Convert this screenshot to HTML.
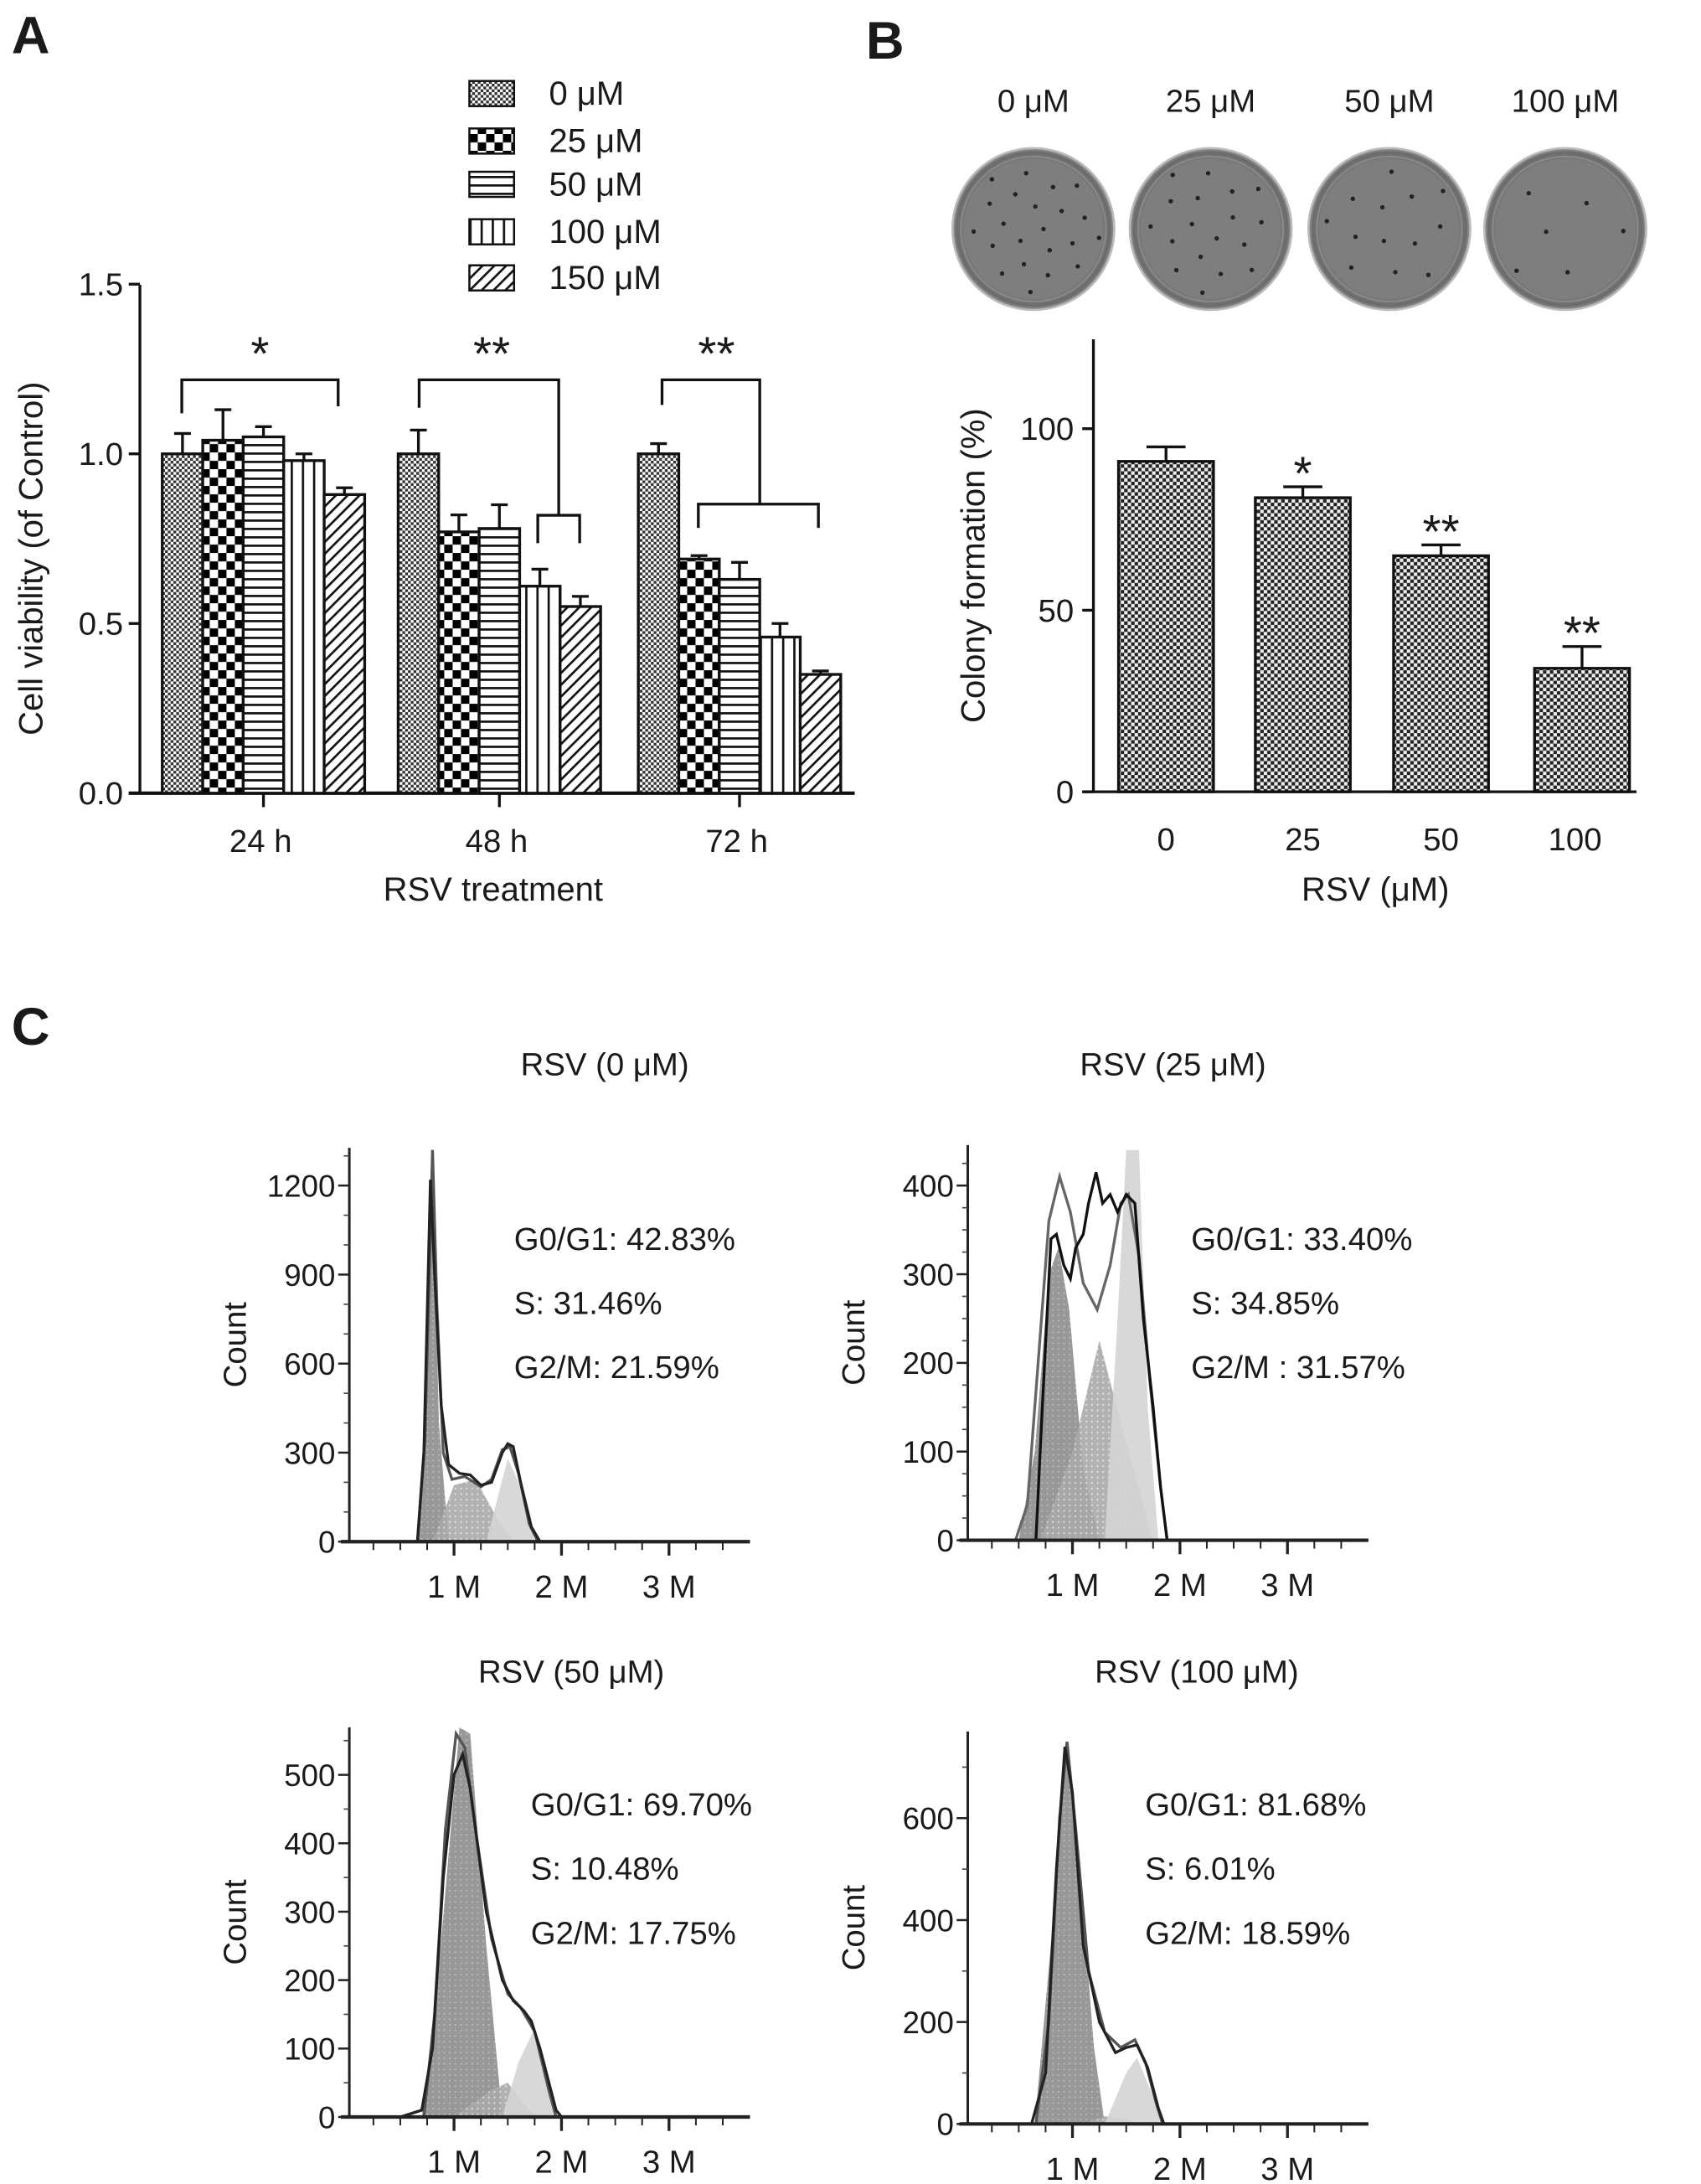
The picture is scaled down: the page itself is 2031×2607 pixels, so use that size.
<!DOCTYPE html>
<html><head><meta charset="utf-8">
<style>
html,body{margin:0;padding:0;background:#fff;}
svg{display:block;font-family:"Liberation Sans",Arial,sans-serif;}
text{fill:#1a1a1a;}
</style></head>
<body>
<svg id="fig" width="2031" height="2607" viewBox="0 0 1218 1564" xmlns="http://www.w3.org/2000/svg">
<defs>
<pattern id="p0" width="4" height="4" patternUnits="userSpaceOnUse"><rect width="4" height="4" fill="#fff"/><rect width="2" height="2" fill="#333"/><rect x="2" y="2" width="2" height="2" fill="#333"/></pattern>
<pattern id="p1" width="12" height="12" patternUnits="userSpaceOnUse"><rect width="12" height="12" fill="#fff"/><rect width="6" height="6" fill="#000"/><rect x="6" y="6" width="6" height="6" fill="#000"/></pattern>
<pattern id="p2" width="6" height="6" patternUnits="userSpaceOnUse"><rect width="6" height="6" fill="#fff"/><rect y="0" width="6" height="1.6" fill="#111"/></pattern>
<pattern id="p3" width="8" height="8" patternUnits="userSpaceOnUse"><rect width="8" height="8" fill="#fff"/><rect x="0" width="1.6" height="8" fill="#111"/></pattern>
<pattern id="p4" width="6" height="6" patternUnits="userSpaceOnUse" patternTransform="rotate(45)"><rect width="6" height="6" fill="#fff"/><rect width="1.6" height="6" fill="#111"/></pattern>
<pattern id="pB" width="5" height="5" patternUnits="userSpaceOnUse"><rect width="5" height="5" fill="#eee"/><rect width="2.5" height="2.5" fill="#222"/><rect x="2.5" y="2.5" width="2.5" height="2.5" fill="#222"/></pattern>
<pattern id="dotD" width="4" height="4" patternUnits="userSpaceOnUse"><rect width="4" height="4" fill="#8c8c8c"/><circle cx="2" cy="2" r="0.6" fill="#bbb"/></pattern>
<pattern id="dotS" width="4" height="4" patternUnits="userSpaceOnUse"><rect width="4" height="4" fill="#a9a9a9"/><circle cx="2" cy="2" r="0.7" fill="#ddd"/></pattern>
<radialGradient id="dishG" cx="0.5" cy="0.5" r="0.5"><stop offset="0.85" stop-color="#7e7e7e"/><stop offset="0.95" stop-color="#6a6a6a"/><stop offset="1" stop-color="#a0a0a0"/></radialGradient>
</defs>
<g id="root"></g>
</svg>
<script>
// ---------- Panel A data ----------
const aGroups = ["24 h","48 h","72 h"];
const aSeries = ["0 μM","25 μM","50 μM","100 μM","150 μM"];
const aVal24 = [1.00,1.04,1.05,0.98,0.88];
const aVal48 = [1.00,0.77,0.78,0.61,0.55];
const aVal72 = [1.00,0.69,0.63,0.46,0.35];
const aErr24 = [0.06,0.09,0.03,0.02,0.02];
const aErr48 = [0.07,0.05,0.07,0.05,0.03];
const aErr72 = [0.03,0.01,0.05,0.04,0.01];
const aTicks = ["0.0","0.5","1.0","1.5"];
const aTickVals = [0,0.5,1.0,1.5];
// ---------- Panel B data ----------
const bCats = ["0","25","50","100"];
const bVals = [91,81,65,34];
const bErrs = [4,3,3,6];
const bSig = ["","*","**","**"];
const bTicks = [0,50,100];
const bDots = [22,18,13,6];
// ---------- Panel C data ----------
const cTitles = ["RSV (0 μM)","RSV (25 μM)","RSV (50 μM)","RSV (100 μM)"];
const cG1 = ["42.83%","33.40%","69.70%","81.68%"];
const cS = ["31.46%","34.85%","10.48%","6.01%"];
const cG2 = ["21.59%","31.57%","17.75%","18.59%"];
const cTicks0 = [0,300,600,900,1200];
const cTicks1 = [0,100,200,300,400];
const cTicks2 = [0,100,200,300,400,500];
const cTicks3 = [0,200,400,600];
const c0Out = [[0.5,0],[0.66,0],[0.72,300],[0.78,1220],[0.82,900],[0.88,460],[0.95,260],[1.05,230],[1.15,225],[1.25,190],[1.35,200],[1.45,300],[1.5,330],[1.55,320],[1.62,200],[1.72,50],[1.8,0],[3.7,0]];
const c0Out2 = [[0.66,0],[0.73,350],[0.8,1320],[0.84,800],[0.9,300],[0.98,210],[1.1,220],[1.25,185],[1.35,210],[1.45,310],[1.52,320],[1.6,230],[1.7,60],[1.78,0]];
const c0G1 = [[0.66,0],[0.74,400],[0.8,1300],[0.86,400],[0.95,0]];
const c0S = [[0.8,0],[1.0,190],[1.2,210],[1.4,80],[1.55,0]];
const c0G2 = [[1.3,0],[1.5,280],[1.6,200],[1.75,0]];
const c1Out = [[0.5,0],[0.66,0],[0.72,150],[0.8,340],[0.85,345],[0.92,310],[0.98,295],[1.03,330],[1.1,345],[1.15,380],[1.22,415],[1.28,380],[1.35,390],[1.42,370],[1.5,390],[1.58,380],[1.66,250],[1.75,150],[1.82,60],[1.88,0],[3.7,0]];
const c1Out2 = [[0.47,0],[0.58,40],[0.68,200],[0.78,360],[0.88,410],[0.98,370],[1.1,290],[1.23,260],[1.35,310],[1.45,380],[1.52,390],[1.62,320],[1.72,180],[1.82,60],[1.88,0]];
const c1G1 = [[0.5,0],[0.65,100],[0.78,300],[0.87,330],[0.97,260],[1.1,80],[1.25,0]];
const c1S = [[0.7,0],[1.0,100],[1.25,225],[1.5,110],[1.75,0]];
const c1G2 = [[1.3,0],[1.42,250],[1.5,440],[1.62,440],[1.7,150],[1.8,0]];
const c2Out = [[0.5,0],[0.7,10],[0.8,100],[0.9,350],[1.0,500],[1.08,530],[1.15,480],[1.3,300],[1.45,200],[1.55,170],[1.65,155],[1.72,140],[1.8,100],[1.95,10],[2.0,0],[3.7,0]];
const c2Out2 = [[0.72,0],[0.82,150],[0.92,420],[1.02,560],[1.1,540],[1.2,420],[1.35,260],[1.5,180],[1.62,160],[1.75,125],[1.88,40],[1.95,0]];
const c2G1 = [[0.7,0],[0.85,200],[1.05,580],[1.15,560],[1.3,250],[1.45,0]];
const c2S = [[1.0,0],[1.35,40],[1.5,50],[1.7,10],[1.8,0]];
const c2G2 = [[1.45,0],[1.6,80],[1.75,130],[1.85,80],[1.95,0]];
const c3Out = [[0.5,0],[0.62,0],[0.75,100],[0.85,500],[0.93,740],[1.0,650],[1.1,350],[1.25,200],[1.4,140],[1.5,150],[1.6,155],[1.7,110],[1.8,30],[1.85,0],[3.7,0]];
const c3Out2 = [[0.66,0],[0.78,200],[0.88,600],[0.95,750],[1.03,580],[1.15,300],[1.3,180],[1.45,150],[1.58,165],[1.68,120],[1.78,40],[1.84,0]];
const c3G1 = [[0.65,0],[0.82,400],[0.93,740],[1.05,550],[1.2,150],[1.3,0]];
const c3S = [[1.1,0],[1.3,15],[1.5,10],[1.6,0]];
const c3G2 = [[1.3,0],[1.5,100],[1.6,130],[1.7,80],[1.85,0]];

const NS="http://www.w3.org/2000/svg";
const root=document.getElementById('root');
function mk(tag,attrs,parent){const e=document.createElementNS(NS,tag);for(const k in attrs)e.setAttribute(k,attrs[k]);(parent||root).appendChild(e);return e;}
function txt(x,y,s,size,anchor,parent,weight){const t=mk('text',{x:x,y:y,'font-size':size,'text-anchor':anchor||'middle','font-weight':weight||'normal'},parent);t.textContent=s;return t;}

let L=txt(8,38,"A",38,'start',null,'bold');


L=txt(620,42,"B",38,'start',null,'bold');


L=txt(8,748,"C",38,'start',null,'bold');



// ---------- Panel A ----------
const gA=mk('g',{});


const aX0=100,aY0=568,aPx=243;
const ay=v=>aY0-v*aPx;
const aGroupStart=[116,285,457], aBW=29;
const aVals=[aVal24,aVal48,aVal72], aErrs=[aErr24,aErr48,aErr72];
const pats=['p0','p1','p2','p3','p4'];
mk('line',{x1:aX0,y1:204,x2:aX0,y2:aY0,stroke:'#111','stroke-width':2},gA);
mk('line',{x1:aX0-8,y1:aY0,x2:612,y2:aY0,stroke:'#111','stroke-width':2.5},gA);
aTickVals.forEach((v,i)=>{mk('line',{x1:aX0-8,y1:ay(v),x2:aX0,y2:ay(v),stroke:'#111','stroke-width':2},gA);
 const t=txt(aX0-12,ay(v)+8,aTicks[i],23,'end',gA);
 
 });
aGroups.forEach((g,gi)=>{
 const cx=aGroupStart[gi]+aBW*2.5;
 mk('line',{x1:cx,y1:aY0,x2:cx,y2:aY0+10,stroke:'#111','stroke-width':2},gA);
 const t=txt(cx-2,610,g,23,'middle',gA);
 
 
 aVals[gi].forEach((v,si)=>{
  const x=aGroupStart[gi]+si*aBW;
  const r=mk('rect',{x:x,y:ay(v),width:aBW,height:aY0-ay(v),fill:'url(#'+pats[si]+')',stroke:'#111','stroke-width':2},gA);
  
  
  const e=aErrs[gi][si], mx=x+aBW/2;
  mk('path',{d:`M${mx},${ay(v)} V${ay(v+e)} M${mx-6},${ay(v+e)} H${mx+6}`,stroke:'#111','stroke-width':2,fill:'none'},gA);
 });
});
let t=txt(22,400,"Cell viability (of Control)",24,'middle',gA);
t.setAttribute('transform','rotate(-90 22 400)');
t.setAttribute('y',408);


t=txt(353,645,"RSV treatment",24,'middle',gA);


mk('path',{d:'M130,296 V272 H242 V291',stroke:'#111','stroke-width':2,fill:'none'},gA);
mk('path',{d:'M300,292 V272 H400 V369 M385,389 V369 H415 V389',stroke:'#111','stroke-width':2,fill:'none'},gA);
mk('path',{d:'M474,290 V272 H544 V361 M500,378 V361 H586 V378',stroke:'#111','stroke-width':2,fill:'none'},gA);
txt(186,265,"*",34,'middle',gA);txt(352,265,"**",34,'middle',gA);txt(513,265,"**",34,'middle',gA);
const legY=[67,101,132,166,199];
aSeries.forEach((s,i)=>{
 const r=mk('rect',{x:336,y:legY[i]-9,width:32,height:18,fill:'url(#'+pats[i]+')',stroke:'#111','stroke-width':1.5},gA);
 
 
 const l=txt(393,legY[i]+8,s,24,'start',gA);
 
 
});

// ---------- Panel B ----------
const gB=mk('g',{});


const dishCx=[740,867,995,1121];
bCats.forEach((c,i)=>{
 const l=txt(dishCx[i],80,c+" μM",23,'middle',gB);
 
 
 const d=mk('circle',{cx:dishCx[i],cy:164,r:58,fill:'url(#dishG)',stroke:'#bbb','stroke-width':1.5},gB);
 
 
 mk('circle',{cx:dishCx[i],cy:164,r:52,fill:'none',stroke:'#8c8c8c','stroke-width':1},gB);
 for(let k=0;k<bDots[i];k++){
  const a=k*2.39996+i, rr=48*Math.sqrt((k+0.5)/bDots[i]);
  mk('circle',{cx:dishCx[i]+rr*Math.cos(a),cy:164+rr*Math.sin(a),r:1.6,fill:'#222'},gB);
 }
});
const bX0=783,bY0=567,bPx=2.6;
const by=v=>bY0-v*bPx;
const bCx=[835,933,1032,1133], bW=68;
mk('line',{x1:bX0,y1:243,x2:bX0,y2:bY0,stroke:'#111','stroke-width':2},gB);
mk('line',{x1:bX0-8,y1:bY0,x2:1172,y2:bY0,stroke:'#111','stroke-width':2},gB);
bTicks.forEach(v=>{mk('line',{x1:bX0-8,y1:by(v),x2:bX0,y2:by(v),stroke:'#111','stroke-width':2},gB);
 const l=txt(bX0-14,by(v)+8,String(v),23,'end',gB);
 
 });
bCats.forEach((c,i)=>{
 const r=mk('rect',{x:bCx[i]-bW/2,y:by(bVals[i]),width:bW,height:bY0-by(bVals[i]),fill:'url(#pB)',stroke:'#111','stroke-width':2},gB);
 
 
 const e=bErrs[i];
 mk('path',{d:`M${bCx[i]},${by(bVals[i])} V${by(bVals[i]+e)} M${bCx[i]-14},${by(bVals[i]+e)} H${bCx[i]+14}`,stroke:'#111','stroke-width':2,fill:'none'},gB);
 const l=txt(bCx[i]-(i==3?5:0),609,c,23,'middle',gB);
 
 
 if(bSig[i]){const s=txt(bCx[i],by(bVals[i]+e)+2,bSig[i],34,'middle',gB);
  
  }
});
t=txt(705,405,"Colony formation (%)",24,'middle',gB);
t.setAttribute('transform','rotate(-90 705 405)');


t=txt(985,645,"RSV (μM)",24,'middle',gB);



// ---------- Panel C ----------
const hists=[
 {ax:250,y0:1104,top:822,px:255/1200,ticks:cTicks0,out:c0Out,out2:c0Out2,g1:c0G1,s:c0S,g2:c0G2,title:[433,770],txtX:368,txtY:895,minor:100,c1:'#222',c2:'#555'},
 {ax:693,y0:1103,top:820,px:254/400,ticks:cTicks1,out:c1Out,out2:c1Out2,g1:c1G1,s:c1S,g2:c1G2,title:[840,770],txtX:853,txtY:895,minor:25,c1:'#111',c2:'#666'},
 {ax:250,y0:1516,top:1237,px:245/500,ticks:cTicks2,out:c2Out,out2:c2Out2,g1:c2G1,s:c2S,g2:c2G2,title:[409,1205],txtX:380,txtY:1300,minor:50,c1:'#222',c2:'#555'},
 {ax:693,y0:1521,top:1240,px:219/600,ticks:cTicks3,out:c3Out,out2:c3Out2,g1:c3G1,s:c3S,g2:c3G2,title:[857,1205],txtX:820,txtY:1300,minor:100,c1:'#222',c2:'#555'}
];
hists.forEach((h,hi)=>{
 const g=mk('g',{});
 
 
 const mPx=77, x0=h.ax-2;
 const X=m=>x0+m*mPx, Y=c=>Math.max(h.top,h.y0-c*h.px);
 const poly=(pts)=>pts.map((p,i)=>(i?'L':'M')+X(p[0]).toFixed(1)+','+Y(p[1]).toFixed(1)).join(' ');
 const tt=txt(h.title[0],h.title[1],cTitles[hi],23,'middle',g);
 
 
 const fills=[[h.g1,'url(#dotD)'],[h.s,'url(#dotS)'],[h.g2,'#d4d4d4']];
 fills.forEach(f=>{const p=mk('path',{d:poly(f[0])+' Z',fill:f[1],stroke:'none',opacity:0.9},g);
  
  });
 const o2=mk('path',{d:poly(h.out2),fill:'none',stroke:h.c2,'stroke-width':2},g);
 
 
 const o=mk('path',{d:poly(h.out),fill:'none',stroke:h.c1,'stroke-width':2},g);
 
 
 mk('line',{x1:h.ax,y1:h.top,x2:h.ax,y2:h.y0,stroke:'#222','stroke-width':1.8},g);
 mk('line',{x1:h.ax-6,y1:h.y0,x2:h.ax+287,y2:h.y0,stroke:'#222','stroke-width':2.5},g);
 for(let v=0;h.y0-v*h.px>=h.top;v+=h.minor){mk('line',{x1:h.ax-4,y1:h.y0-v*h.px,x2:h.ax,y2:h.y0-v*h.px,stroke:'#444','stroke-width':1},g);}
 h.ticks.forEach(v=>{mk('line',{x1:h.ax-8,y1:h.y0-v*h.px,x2:h.ax,y2:h.y0-v*h.px,stroke:'#222','stroke-width':1.5},g);
  const l=txt(h.ax-10,h.y0-v*h.px+8,String(v),22,'end',g);
  
  });
 for(let m=0.25;m<=3.6;m+=0.25){const major=Math.abs(m-Math.round(m))<0.01;
  mk('line',{x1:X(m),y1:h.y0,x2:X(m),y2:h.y0+(major?10:6),stroke:'#222','stroke-width':major?2:1.2},g);}
 ['1 M','2 M','3 M'].forEach((s,i)=>{const l=txt(X(i+1),h.y0+40,s,23,'middle',g);
  
  });
 const cy=(h.top+h.y0)/2;
 const c=txt(h.ax-82,cy,"Count",23,'middle',g);
 c.setAttribute('transform','rotate(-90 '+(h.ax-82)+' '+cy+')');
 c.setAttribute('y',cy+8);
 
 
 const lines=["G0/G1: "+cG1[hi],"S: "+cS[hi],(hi==1?"G2/M : ":"G2/M: ")+cG2[hi]];
 lines.forEach((s,i)=>{const l=txt(h.txtX,h.txtY+i*46,s,23,'start',g);
  
  });
});
</script>
</body></html>
